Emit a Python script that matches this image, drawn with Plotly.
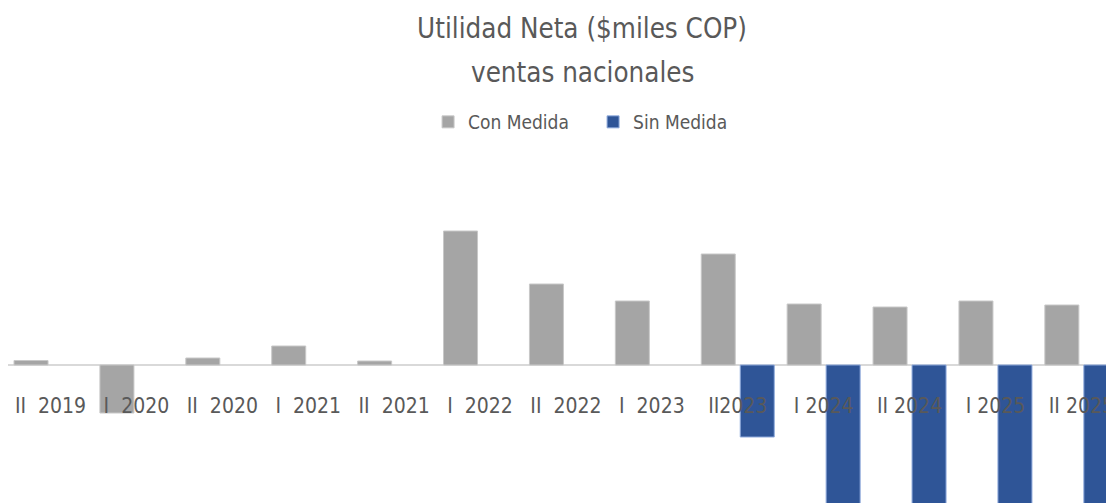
import plotly.graph_objects as go

NB = "\u00a0"
categories = ["II" + NB*2 + "2019", "I" + NB*2 + "2020", "II" + NB*2 + "2020", "I" + NB*2 + "2021",
              "II" + NB*2 + "2021", "I" + NB*2 + "2022", "II" + NB*2 + "2022", "I" + NB*2 + "2023",
              "II2023", "I 2024", "II 2024", "I 2025", "II 2025"]
con_medida = [45, -480, 70, 190, 40, 1340, 810, 640, 1110, 610, 580, 640, 600]
sin_medida = [None, None, None, None, None, None, None, None, -720, -1900, -1950, -1900, -1950]
title_line1 = "Utilidad Neta ($miles COP)"
title_line2 = "ventas nacionales"

FONT = "DejaVu Sans Condensed, sans-serif"

fig = go.Figure()
fig.add_trace(go.Bar(name="Con Medida", x=categories, y=con_medida,
                     marker=dict(color="#A5A5A5", line=dict(color="#C8C8C8", width=1))))
fig.add_trace(go.Bar(name="Sin Medida", x=categories, y=sin_medida,
                     marker=dict(color="#2F5597", line=dict(color="#8FAADC", width=1))))

fig.update_layout(
    width=1106, height=495,
    margin=dict(l=0, r=0, t=132, b=0, autoexpand=False),
    paper_bgcolor="white", plot_bgcolor="white",
    barmode="group", bargap=0.092, bargroupgap=0.128,
    title=dict(text=title_line1,
               x=0.519, xanchor="center", xref="paper", yref="container", y=0.9596, yanchor="middle",
               font=dict(family=FONT, size=27.5, color="#595959")),
    annotations=[dict(text=title_line2, x=0.519, xref="paper", xanchor="center",
                      y=1.1873, yref="paper", yanchor="middle", showarrow=False,
                      font=dict(family=FONT, size=27.5, color="#595959"))],
    legend=dict(orientation="h", x=0.529, xanchor="center", y=1.0496, yanchor="middle",
                font=dict(family=FONT, size=19, color="#595959"),
                entrywidth=120, itemwidth=30),
    showlegend=True,
    xaxis=dict(range=[-0.495, 12.38], anchor="free", position=0.3085, showline=False,
               showgrid=False, ticks="", automargin=False,
               tickfont=dict(family=FONT, size=21, color="#595959"), tickangle=0),
    yaxis=dict(range=[-1380, 2250], visible=True, showticklabels=False, showgrid=False,
               automargin=False,
               zeroline=True, zerolinecolor="#D9D9D9", zerolinewidth=2, showline=False),
)

fig.write_html("out.html")
